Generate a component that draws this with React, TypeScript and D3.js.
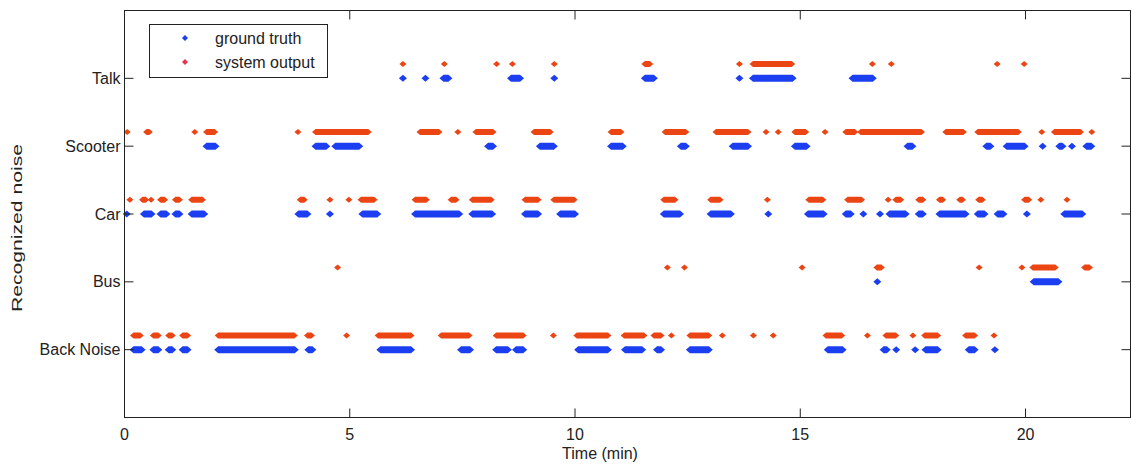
import React from "react";
import { scaleLinear } from "d3";

type Seg = [number, number];

const width = 1131;
const height = 464;

const categories = ["Back Noise", "Bus", "Car", "Scooter", "Talk"];
const xTicks = [0, 5, 10, 15, 20];

// ground truth, [start, end] in minutes (single points have start == end)
const truthBackNoise: Seg[] = [[0.2, 0.38], [0.64, 0.75], [0.98, 1.06], [1.29, 1.4], [2.08, 3.78], [4.08, 4.17], [5.68, 6.36], [7.47, 7.67], [8.25, 8.51], [8.69, 8.85], [10.07, 10.73], [11.11, 11.49], [11.82, 11.91], [12.55, 12.97], [15.61, 15.94], [16.85, 16.92], [17.13, 17.13], [17.55, 17.55], [17.78, 18.05], [18.74, 18.87], [19.32, 19.32]];
const truthBus: Seg[] = [[16.71, 16.71], [20.18, 20.73]];
const truthCar: Seg[] = [[0.05, 0.05], [0.43, 0.6], [0.8, 0.93], [1.13, 1.22], [1.49, 1.77], [3.86, 4.06], [4.56, 4.56], [5.28, 5.61], [6.45, 7.43], [7.72, 8.16], [8.89, 9.18], [9.67, 10.0], [11.97, 12.33], [13.01, 13.46], [14.29, 14.29], [15.17, 15.52], [16.01, 16.12], [16.4, 16.4], [16.77, 16.77], [16.98, 17.34], [17.63, 17.72], [18.09, 18.67], [18.94, 19.09], [19.38, 19.51], [20.03, 20.03], [20.86, 21.26]];
const truthScooter: Seg[] = [[1.82, 2.02], [4.24, 4.48], [4.68, 5.21], [8.07, 8.18], [9.22, 9.53], [10.8, 11.06], [12.35, 12.46], [13.5, 13.84], [14.88, 15.14], [17.38, 17.49], [19.13, 19.22], [19.58, 19.98], [20.38, 20.38], [20.75, 20.82], [21.03, 21.03], [21.35, 21.46]];
const truthTalk: Seg[] = [[6.18, 6.18], [6.68, 6.68], [7.08, 7.19], [8.58, 8.78], [9.54, 9.54], [11.55, 11.75], [13.65, 13.65], [13.95, 14.83], [16.16, 16.61]];

// system output
const outBackNoise: Seg[] = [[0.2, 0.35], [0.64, 0.75], [0.98, 1.06], [1.29, 1.4], [2.08, 3.77], [4.06, 4.15], [4.93, 4.93], [5.63, 6.36], [7.03, 7.65], [8.25, 8.85], [9.52, 9.52], [10.04, 10.73], [11.09, 11.53], [11.75, 11.91], [12.14, 12.14], [12.55, 12.97], [13.27, 13.27], [13.96, 13.96], [14.4, 14.4], [15.57, 15.92], [16.49, 16.49], [16.9, 17.12], [17.5, 17.5], [17.76, 18.05], [18.67, 18.87], [19.3, 19.3]];
const outBus: Seg[] = [[4.73, 4.73], [12.05, 12.05], [12.43, 12.43], [15.04, 15.04], [16.7, 16.8], [18.97, 18.97], [19.92, 19.92], [20.16, 20.66], [21.31, 21.42]];
const outCar: Seg[] = [[0.12, 0.12], [0.4, 0.47], [0.59, 0.59], [0.8, 0.89], [1.13, 1.22], [1.49, 1.73], [3.9, 3.99], [4.56, 4.56], [4.98, 4.98], [5.25, 5.54], [6.45, 6.7], [7.25, 7.36], [7.72, 8.14], [8.89, 9.18], [9.53, 9.98], [11.97, 12.22], [13.01, 13.22], [14.27, 14.27], [15.19, 15.5], [16.05, 16.36], [16.95, 16.95], [17.12, 17.23], [17.63, 17.72], [18.09, 18.16], [18.54, 18.6], [18.96, 19.04], [19.98, 20.07], [20.34, 20.34], [20.92, 20.92]];
const outScooter: Seg[] = [[0.06, 0.06], [0.49, 0.55], [1.56, 1.56], [1.82, 2.0], [3.85, 3.85], [4.24, 5.41], [6.56, 6.98], [7.4, 7.4], [7.8, 8.18], [9.09, 9.45], [10.8, 11.02], [12.0, 12.46], [13.13, 13.84], [14.24, 14.24], [14.51, 14.51], [14.88, 15.12], [15.55, 15.55], [16.01, 16.21], [16.34, 17.69], [18.23, 18.62], [18.94, 19.84], [20.36, 20.36], [20.64, 21.22], [21.47, 21.47]];
const outTalk: Seg[] = [[6.18, 6.18], [7.1, 7.1], [8.26, 8.26], [8.61, 8.61], [9.54, 9.54], [11.55, 11.66], [13.65, 13.65], [13.95, 14.81], [16.6, 16.6], [17.02, 17.02], [19.37, 19.37], [19.97, 19.97]];

const truth = [truthBackNoise, truthBus, truthCar, truthScooter, truthTalk];
const output = [outBackNoise, outBus, outCar, outScooter, outTalk];

const outOffset = 0.21;
const blue = "#1b3ef0";
const red = "#ec4514";
const font = "'Liberation Sans', Arial, sans-serif";

const margin = { left: 124.5, right: 1130.5, top: 10.5, bottom: 417.5 };

const x = scaleLinear().domain([0, 22.33]).range([margin.left, margin.right]);
const y = scaleLinear().domain([0, 6]).range([margin.bottom, margin.top]);

// run of diamonds: diamond at each end joined by a band
const runPath = (s: Seg, yv: number, hw: number, hh: number) => {
  const x0 = x(s[0]);
  const x1 = x(s[1]);
  const yc = y(yv);
  return `M${x0 - hw},${yc}L${x0},${yc - hh}L${x1},${yc - hh}L${x1 + hw},${yc}L${x1},${yc + hh}L${x0},${yc + hh}Z`;
};

const App = () => {
  const tickLen = 9;
  return (
    <svg
      width={width}
      height={height}
      style={{ position: "absolute", left: 0, top: 0, background: "#fff" }}
      fontFamily={font}
    >
      {/* data */}
      {truth.map((segs, ci) =>
        segs.map((s, i) => (
          <path key={`t${ci}-${i}`} d={runPath(s, ci + 1, 4, 3.5)} fill={blue} />
        ))
      )}
      {output.map((segs, ci) =>
        segs.map((s, i) => (
          <path key={`o${ci}-${i}`} d={runPath(s, ci + 1 + outOffset, 3.5, 3)} fill={red} />
        ))
      )}

      {/* axes box */}
      <rect
        x={margin.left}
        y={margin.top}
        width={margin.right - margin.left}
        height={margin.bottom - margin.top}
        fill="none"
        stroke="#222"
        strokeWidth={1}
      />
      {xTicks.map((t) => (
        <g key={t}>
          <line x1={x(t)} x2={x(t)} y1={margin.bottom} y2={margin.bottom - tickLen} stroke="#222" />
          <line x1={x(t)} x2={x(t)} y1={margin.top} y2={margin.top + tickLen} stroke="#222" />
          <text x={x(t)} y={440} textAnchor="middle" fontSize={16} fill="#222">
            {t}
          </text>
        </g>
      ))}
      {categories.map((c, i) => (
        <g key={c}>
          <line x1={margin.left} x2={margin.left + tickLen} y1={y(i + 1)} y2={y(i + 1)} stroke="#222" />
          <line x1={margin.right} x2={margin.right - tickLen} y1={y(i + 1)} y2={y(i + 1)} stroke="#222" />
          <text x={margin.left - 4} y={y(i + 1) + 5.5} textAnchor="end" fontSize={16} fill="#222">
            {c}
          </text>
        </g>
      ))}
      <text x={600} y={459} textAnchor="middle" fontSize={16} fill="#222">
        Time (min)
      </text>
      <text
        transform={`translate(22,${y(3) + 14}) rotate(-90)`}
        textAnchor="middle"
        fontSize={15}
        textLength={168}
        lengthAdjust="spacingAndGlyphs"
        fill="#222"
      >
        Recognized noise
      </text>

      {/* legend */}
      <rect x={149.5} y={24.5} width={178} height={53} fill="#fff" stroke="#222" />
      <path d="M185,35L188,38L185,41L182,38Z" fill={blue} />
      <path d="M185,59L188,62L185,65L182,62Z" fill="#e8334f" />
      <text x={215} y={44} fontSize={16} fill="#222">ground truth</text>
      <text x={215} y={68} fontSize={16} fill="#222">system output</text>
    </svg>
  );
};

export default App;
